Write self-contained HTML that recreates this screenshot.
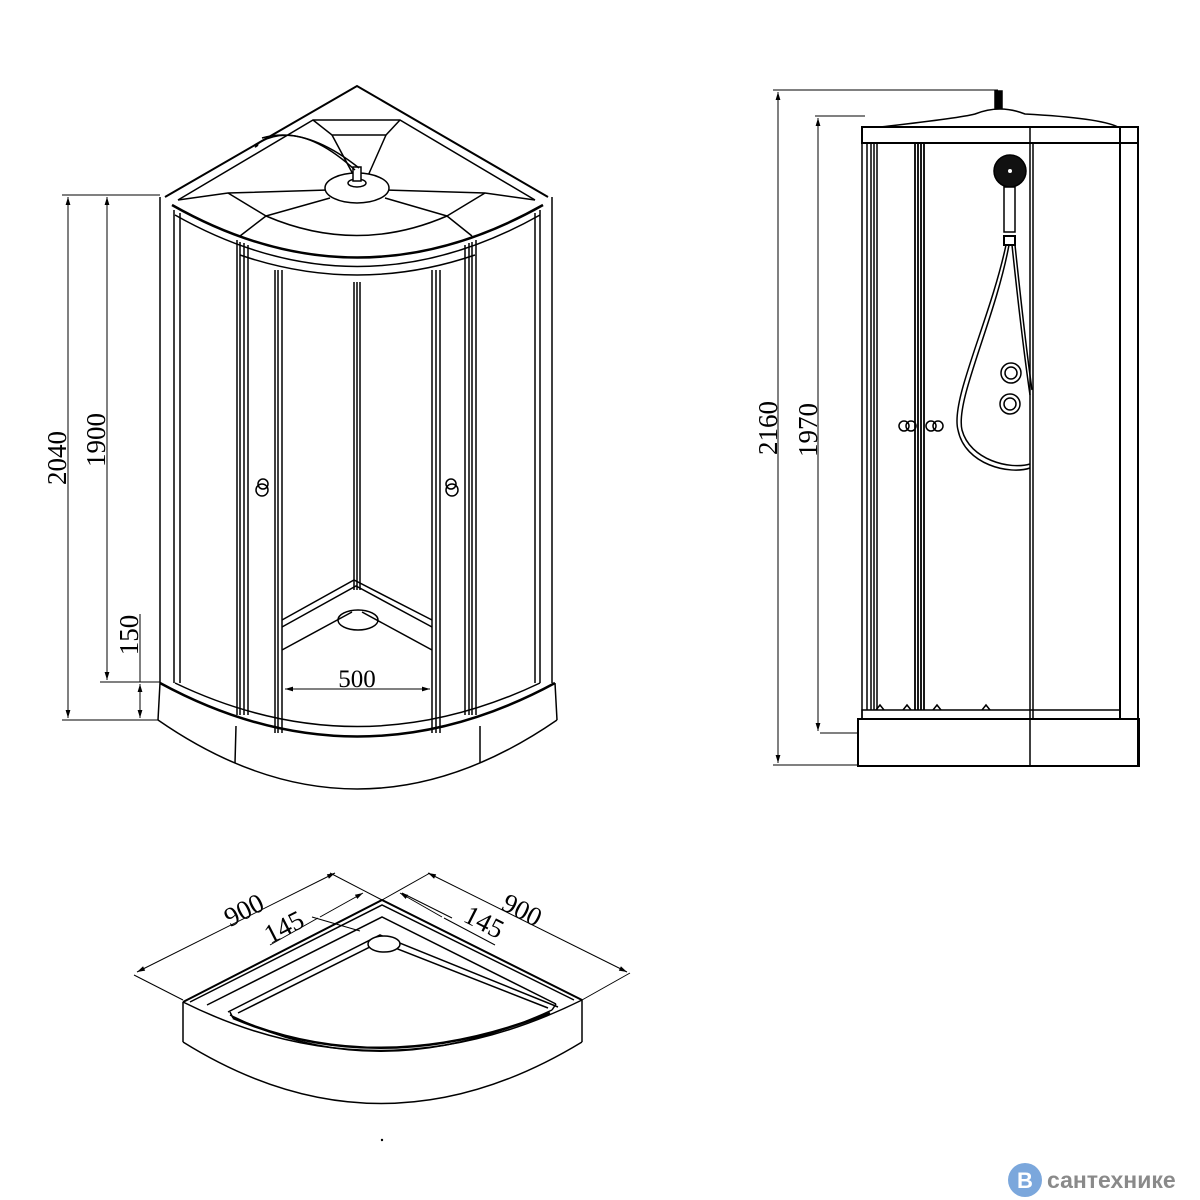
<!DOCTYPE html>
<html><head><meta charset="utf-8"><style>
html,body{margin:0;padding:0;background:#fff;}
svg{display:block}
text{font-family:"Liberation Serif",serif;fill:#000}
</style></head><body>
<svg width="1200" height="1200" viewBox="0 0 1200 1200" xmlns="http://www.w3.org/2000/svg">
<defs>
<marker id="a" viewBox="0 0 10 10" refX="10" refY="5" markerWidth="8" markerHeight="8" orient="auto-start-reverse"><path d="M0,2 L10,5 L0,8 z" fill="#000"/></marker>
</defs>
<g fill="none" stroke="#000" stroke-width="1.5">
<!-- LEFT VIEW top -->
<path d="M165,197 L357,86 L548,197" stroke-width="2"/>
<path d="M178,200 L313,120 L400,120 L535,200"/>
<path d="M313,120 L332,135 L386,135 L400,120"/>
<path d="M332,135 L355,178 M386,135 L367,178"/>
<path d="M178,200 L228,193 L328,190 M385,190 L485,193 L535,200"/>
<path d="M228,193 L266,216 M485,193 L447,216"/>
<path d="M266,216 L330,198 M447,216 L385,198"/>
<path d="M266,216 Q357,255 447,216"/>
<path d="M240,236 L266,216 M472,236 L447,216"/>
<ellipse cx="357" cy="188" rx="32" ry="15" fill="#fff"/>
<ellipse cx="357" cy="183" rx="9" ry="4"/>
<rect x="353" y="167" width="8" height="14" fill="#fff"/>
<path d="M355,170 Q300,120 260,142 Q252,150 258,145"/>
<path d="M359,168 Q305,125 262,138"/>
<!-- front curved top -->
<path d="M172,205 Q357,310 543,205" stroke-width="2.5"/>
<path d="M175,215 Q357,318 540,215"/>
<path d="M240,255 Q357,295 475,255"/>
<!-- side walls -->
<path d="M160,197 L160,683 M174,210 L174,683 M180,213 L180,683"/>
<path d="M552,197 L552,683 M540,210 L540,683 M535,213 L535,683"/>
<!-- door posts -->
<path d="M237,240 L237,715 M240,242 L240,715 M244,243 L244,715 M248,245 L248,715"/>
<path d="M275,270 L275,733 M278,270 L278,733 M282,270 L282,733"/>
<path d="M354,282 L354,590 M357,282 L357,590 M360,282 L360,590"/>
<path d="M432,270 L432,733 M436,270 L436,733 M440,270 L440,733"/>
<path d="M465,245 L465,715 M469,243 L469,715 M472,242 L472,715 M476,240 L476,715"/>
<circle cx="262" cy="490" r="6"/><circle cx="263" cy="484" r="5"/>
<circle cx="452" cy="490" r="6"/><circle cx="451" cy="484" r="5"/>
<!-- inner corner bottom -->
<path d="M282,620 L354,580 L432,620 M282,627 L356,586 L432,627"/>
<path d="M282,650 L352,612 M432,650 L362,612"/>
<ellipse cx="358" cy="620" rx="20" ry="10"/>
<!-- 500 -->
<path d="M285,689 L430,689" marker-start="url(#a)" marker-end="url(#a)" stroke-width="1"/>
<!-- tray -->
<path d="M160,683 Q357,790 555,683" stroke-width="2.5"/>
<path d="M175,683 Q357,770 540,683"/>
<path d="M160,683 L158,720 M555,683 L557,720"/>
<path d="M158,720 Q357,858 557,720"/>
<path d="M236,726 L235,763 M480,726 L480,763"/>
<!-- left dims -->
<g stroke-width="1">
<path d="M62,195 L160,195 M62,720 L158,720 M100,682 L160,682"/>
<path d="M68,197 L68,718" marker-start="url(#a)" marker-end="url(#a)"/>
<path d="M107,197 L107,680" marker-start="url(#a)" marker-end="url(#a)"/>
<path d="M140,684 L140,718" marker-start="url(#a)" marker-end="url(#a)"/>
<path d="M140,614 L140,682"/>
</g>
<!-- RIGHT VIEW -->
<g stroke-width="1">
<path d="M773,90 L998,90 M815,116 L865,116 M820,733 L857,733"/>
<path d="M778,92 L778,763" marker-start="url(#a)" marker-end="url(#a)"/>
<path d="M818,118 L818,731" marker-start="url(#a)" marker-end="url(#a)"/>
<path d="M773,765 L858,765"/>
</g>
<rect x="995" y="91" width="7" height="17" fill="#000"/>
<path d="M880,127 Q960,118 975,114 Q1000,104 1025,114 Q1100,118 1118,127" stroke-width="1.5"/>
<rect x="862" y="127" width="276" height="16" stroke-width="2"/>
<path d="M1120,127 L1120,719 M1138,127 L1138,766" stroke-width="2"/>
<path d="M1030,127 L1030,719 M1033,143 L1033,719"/>
<path d="M862,143 L862,719 M867,143 L867,710 M871,143 L871,710 M874,143 L874,710 M877,143 L877,710"/>
<path d="M915,143 L915,710 M918,143 L918,710 M921,143 L921,710 M924,143 L924,710" stroke-width="1.8"/>
<rect x="862" y="710" width="258" height="9"/>
<rect x="858" y="719" width="281" height="47" stroke-width="2"/>
<path d="M1030,719 L1030,766"/>
<circle cx="1010" cy="171" r="16" fill="#111"/>
<circle cx="1010" cy="171" r="2" fill="#fff" stroke="none"/>
<rect x="1004" y="187" width="11" height="45" fill="#fff"/>
<rect x="1004" y="236" width="11" height="9" fill="#fff" stroke-width="2"/>
<path d="M1006,245 C990,320 950,400 958,430 C965,465 1010,475 1030,468"/>
<path d="M1009,245 C995,320 955,400 962,430 C970,460 1010,470 1030,464"/>
<path d="M1012,245 Q1022,340 1030,395 M1015,245 Q1025,340 1032,390"/>
<circle cx="1011" cy="373" r="10"/><circle cx="1011" cy="373" r="6"/>
<circle cx="1010" cy="404" r="10"/><circle cx="1010" cy="404" r="6"/>
<circle cx="904" cy="426" r="5"/><circle cx="911" cy="426" r="5"/>
<circle cx="931" cy="426" r="5"/><circle cx="938" cy="426" r="5"/>
<path d="M876,710 l4,-5 l4,5 M903,710 l4,-5 l4,5 M933,710 l4,-5 l4,5 M982,710 l4,-5 l4,5"/>
<!-- BOTTOM TRAY -->
<path d="M183,1002 L382,900 L582,1000" stroke-width="2"/>
<path d="M190,1002 L382,905 L574,1000"/>
<path d="M207,1005 L382,917 L556,1004"/>
<path d="M228,1012 L380,935 L558,1007"/>
<path d="M230,1015 Q380,1090 552,1010"/>
<path d="M233,1018 Q380,1080 550,1013" stroke-width="2.5"/>
<path d="M230,1012 L233,1018 M556,1004 L552,1010"/>
<path d="M238,1013 L380,942 L548,1008"/>
<ellipse cx="384" cy="944" rx="16" ry="8" fill="#fff"/>
<path d="M183,1002 Q380,1100 582,1000"/>
<path d="M183,1002 L183,1042 M582,1000 L582,1042"/>
<path d="M183,1042 Q380,1165 582,1042"/>
<g stroke-width="1">
<path d="M183,1000 L134,975 M382,900 L330,873 M382,900 L430,873 M582,1000 L630,973"/>
<path d="M137,972 L335,873" marker-start="url(#a)" marker-end="url(#a)"/>
<path d="M428,873 L627,972" marker-start="url(#a)" marker-end="url(#a)"/>
<path d="M320,917 L363,893" marker-end="url(#a)"/>
<path d="M400,893 L442,917" marker-start="url(#a)"/>
<path d="M318,918 L270,945 M444,918 L495,945"/>
<path d="M360,931 L312,917 M402,893 L452,918"/>
</g>
</g>
<!-- texts -->
<text x="357" y="687" font-size="25" text-anchor="middle">500</text>
<text transform="translate(66,458) rotate(-90)" font-size="27" text-anchor="middle">2040</text>
<text transform="translate(105,440) rotate(-90)" font-size="27" text-anchor="middle">1900</text>
<text transform="translate(138,635) rotate(-90)" font-size="27" text-anchor="middle">150</text>
<text transform="translate(777,428) rotate(-90)" font-size="27" text-anchor="middle">2160</text>
<text transform="translate(817,430) rotate(-90)" font-size="27" text-anchor="middle">1970</text>
<text transform="translate(248,918) rotate(-27)" font-size="27" text-anchor="middle">900</text>
<text transform="translate(288,935) rotate(-27)" font-size="27" text-anchor="middle">145</text>
<text transform="translate(518,918) rotate(27)" font-size="27" text-anchor="middle">900</text>
<text transform="translate(480,930) rotate(27)" font-size="27" text-anchor="middle">145</text>
<circle cx="382" cy="1140" r="1.2" fill="#000"/>
<circle cx="1025" cy="1180" r="17" fill="#7ba7dc"/>
<text x="1025" y="1188" font-size="22" font-weight="bold" text-anchor="middle" style="font-family:'Liberation Sans',sans-serif;fill:#fff">B</text>
<text x="1047" y="1188" font-size="23" font-weight="bold" style="font-family:'Liberation Sans',sans-serif;fill:#8a8a8a">сантехнике</text>
</svg>
</body></html>
